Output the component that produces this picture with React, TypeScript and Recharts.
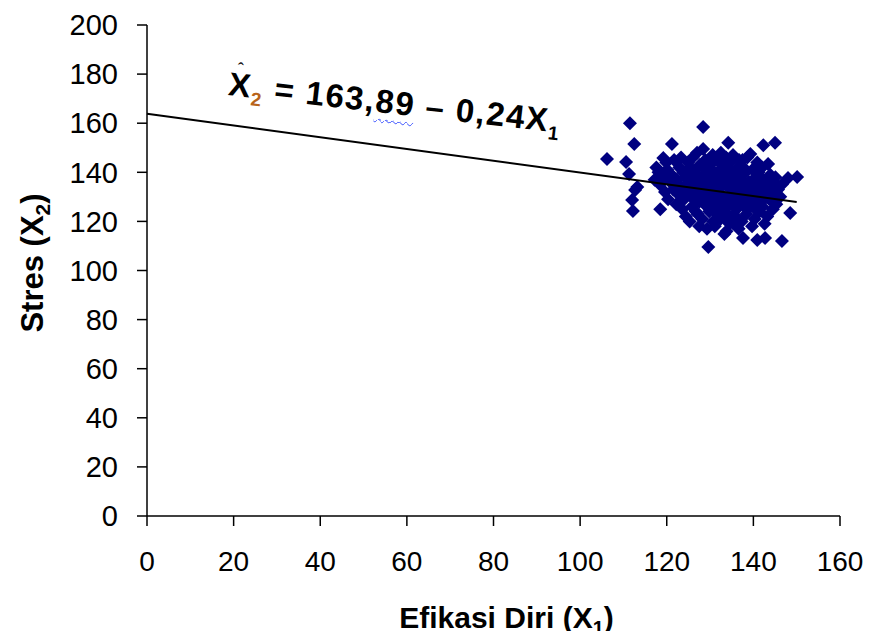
import { ScatterChart, Scatter, XAxis, YAxis, Label } from "recharts";

// Efikasi Diri (X1) for each respondent
const efikasiX1 = [
  111.5, 112.5, 121.2, 106.2, 110.6, 111.3, 113.2, 119.2, 128.4, 128.4,
  134.2, 142.3, 145, 139.3, 143.4, 148, 150.1, 112.7, 112, 112.2,
  118.5, 148.5, 146.6, 129.6, 133.3, 135.3, 137.6, 140.9, 142.7,
  117.2, 117.6,
  118.4, 118.1,
  119.6, 119.2, 119.9,
  120.3, 120.8, 120.1,
  121.5, 121.1, 121.7,
  122.2, 122.7, 122.4, 122.9,
  123.6, 123.1, 123.8, 123.3,
  124.4, 124.0, 124.7, 124.2, 124.9,
  125.3, 125.8, 125.1, 125.6, 125.4,
  126.7, 126.2, 126.9, 126.4, 126.0,
  127.5, 127.1, 127.8, 127.3, 127.6, 127.0,
  128.2, 128.7, 128.0, 128.5, 128.9,
  129.3, 129.8, 129.1, 129.6, 129.4,
  130.7, 130.2, 130.9, 130.4, 130.0, 130.6,
  131.1, 131.6, 131.3, 131.8, 131.0, 131.5,
  132.4, 132.0, 132.7, 132.2, 132.9, 132.5,
  133.8, 133.3, 133.0, 133.6, 133.1, 133.7,
  134.5, 134.1, 134.8, 134.3, 134.6,
  135.2, 135.7, 135.0, 135.5, 135.9, 135.3,
  136.6, 136.1, 136.8, 136.4, 136.0, 136.7,
  137.3, 137.9, 137.5, 137.1, 137.7,
  138.4, 138.0, 138.8, 138.2, 138.6,
  139.7, 139.2, 139.5, 139.0, 139.8,
  140.3, 140.8, 140.1, 140.5, 140.9,
  141.4, 141.0, 141.7, 141.2,
  142.6, 142.1, 142.8, 142.3, 142.0,
  143.2, 143.7, 143.4, 143.9,
  144.5, 144.1, 144.8,
  145.3, 145.7, 145.1,
  146.2, 146.6,
  125.5, 126.5, 127.5, 128.5, 129.5, 130.5, 131.5, 132.5, 133.5, 134.5,
  135.5, 136.5, 137.5, 138.5, 139.5, 140.5, 141.5, 129.5, 131.5, 133.5,
  127.5, 124.5, 123.5, 136.5, 138.5, 140.5, 142.5, 130.5, 134.5, 137.5,
  132.5, 128.5, 126.5, 122.5, 121.5,
];

// Stres (X2) for each respondent, same order
const stresX2 = [
  160, 151.5, 151.5, 145.4, 144.2, 139.3, 134, 145.8, 158.5, 149.5,
  152, 151, 152, 147.5, 143.4, 137.7, 138.1, 132.8, 128.7, 124.2,
  125, 123.4, 112, 109.6, 114.9, 119.3, 113.2, 112.4, 113.2,
  137, 142,
  135, 140,
  132, 138, 144,
  129, 136, 141,
  133, 139, 145,
  127, 131, 137, 142,
  125, 134, 140, 146,
  122, 129, 133, 138, 144,
  120, 126, 131, 136, 142,
  124, 129, 134, 140, 146,
  118, 123, 131, 137, 143, 148,
  121, 127, 133, 139, 145,
  117, 124, 130, 135, 141,
  120, 126, 132, 138, 143, 147,
  118, 123, 129, 134, 140, 145,
  121, 127, 131, 137, 142, 148,
  116, 124, 130, 135, 139, 146,
  119, 126, 133, 138, 144,
  122, 128, 131, 136, 141, 147,
  117, 125, 130, 134, 139, 145,
  120, 127, 132, 137, 142,
  123, 129, 135, 140, 146,
  118, 126, 131, 136, 141,
  121, 128, 133, 138, 144,
  124, 130, 135, 140,
  119, 126, 132, 137, 142,
  122, 129, 134, 139,
  125, 131, 136,
  127, 133, 138,
  130, 135,
  139, 137, 134, 136, 132, 129, 137, 134, 127, 130,
  133, 127, 135, 132, 128, 136, 132, 127, 125, 121,
  128, 135, 131, 121, 125, 125, 129, 140, 141, 145,
  144, 142, 131, 134, 137,
];

// regression line endpoints: X2 = 163,89 - 0,24 X1
const garisX = [0, 150];
const garisY = [163.89, 127.89];

const xTicks = [0, 20, 40, 60, 80, 100, 120, 140, 160];
const yTicks = [0, 20, 40, 60, 80, 100, 120, 140, 160, 180, 200];

const titik = efikasiX1.map((x, i) => ({ x, y: stresX2[i] }));
const garis = garisX.map((x, i) => ({ x, y: garisY[i] }));

const Diamond = (props: any) => {
  const { cx, cy } = props;
  if (cx == null || cy == null) return <g />;
  const r = 7;
  return (
    <path
      d={`M${cx},${cy - r}L${cx + r},${cy}L${cx},${cy + r}L${cx - r},${cy}Z`}
      fill="#000080"
    />
  );
};

const XTitle = (props: any) => {
  const { viewBox } = props;
  const cx = viewBox.x + viewBox.width / 2 + 13;
  return (
    <text x={cx} y={628} textAnchor="middle" fontSize={30} fontWeight="bold" fill="#000">
      Efikasi Diri (X<tspan dy={7} fontSize={20}>1</tspan>
      <tspan dy={-7}>)</tspan>
    </text>
  );
};

const YTitle = () => (
  <text
    x={0}
    y={0}
    transform="translate(43,263) rotate(-90)"
    textAnchor="middle"
    fontSize={31}
    fontWeight="bold"
    fill="#000"
  >
    Stres (X<tspan dy={7} fontSize={21}>2</tspan>
    <tspan dy={-7}>)</tspan>
  </text>
);

export default function App() {
  return (
    <div
      style={{
        margin: -8,
        width: 874,
        height: 639,
        position: "relative",
        background: "#fff",
        fontFamily: "'Liberation Sans', Arial, sans-serif",
      }}
    >
      <ScatterChart
        width={874}
        height={639}
        margin={{ top: 25, right: 34, bottom: 0, left: 0 }}
      >
        <XAxis
          type="number"
          dataKey="x"
          domain={[0, 160]}
          ticks={xTicks}
          height={123}
          tickSize={10}
          tickMargin={25}
          axisLine={{ stroke: "#000", strokeWidth: 1.5 }}
          tickLine={{ stroke: "#000", strokeWidth: 1.5 }}
          tick={{ fontSize: 28, fill: "#000" }}
        >
          <Label content={<XTitle />} />
        </XAxis>
        <YAxis
          type="number"
          dataKey="y"
          domain={[0, 200]}
          ticks={yTicks}
          width={147}
          tickSize={10}
          tickMargin={19}
          axisLine={{ stroke: "#000", strokeWidth: 1.5 }}
          tickLine={{ stroke: "#000", strokeWidth: 1.5 }}
          tick={{ fontSize: 29, fill: "#000" }}
        >
          <Label content={<YTitle />} />
        </YAxis>
        <Scatter data={titik} shape={<Diamond />} isAnimationActive={false} />
        <Scatter
          data={garis}
          line={{ stroke: "#000", strokeWidth: 2 }}
          shape={() => <g />}
          isAnimationActive={false}
        />
      </ScatterChart>
      <div
        style={{
          position: "absolute",
          left: 228,
          top: 67,
          transform: "rotate(6.5deg)",
          transformOrigin: "left center",
          fontFamily: "'Liberation Sans', Arial, sans-serif",
          fontSize: 33,
          fontWeight: 700,
          letterSpacing: 1.5,
          lineHeight: "34px",
          whiteSpace: "nowrap",
          color: "#000",
        }}
      >
        <span style={{ position: "relative" }}>
          X
          <span
            style={{
              position: "absolute",
              left: 7,
              top: -14,
              fontSize: 18,
              fontWeight: "normal",
            }}
          >
            ˆ
          </span>
        </span>
        <sub style={{ fontSize: 19, color: "#b8641a" }}>2</sub>
        {" = 163,"}
        <span
          style={{
            textDecoration: "underline wavy #3a52ff",
            textDecorationThickness: 1,
            textUnderlineOffset: 6,
          }}
        >
          89
        </span>
        {" – 0,24X"}
        <sub style={{ fontSize: 19 }}>1</sub>
      </div>
    </div>
  );
}
